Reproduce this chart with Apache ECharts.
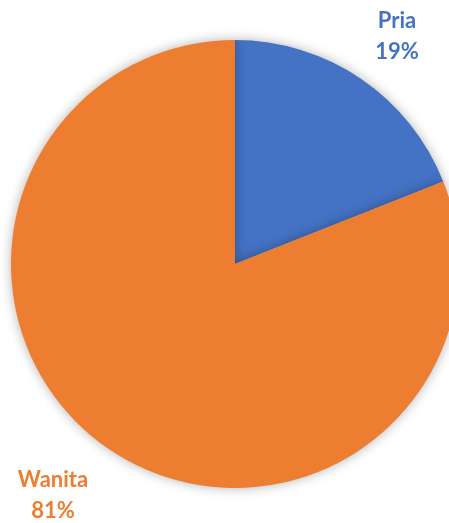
<!DOCTYPE html>
<html>
<head>
<meta charset="utf-8">
<script src="https://cdn.jsdelivr.net/npm/echarts@6/dist/echarts.min.js"></script>
<style>
  html, body { margin: 0; padding: 0; background: #fff; }
  #chart { width: 449px; height: 523px; }
</style>
</head>
<body>
<div id="chart"></div>
<script>
const categories = ["Pria", "Wanita"];
const values = [19, 81];
const colors = ["#4472C4", "#ED7D31"];

const chart = echarts.init(document.getElementById("chart"));

chart.setOption({
  animation: false,
  series: [
    {
      type: "pie",
      center: [235, 264],
      radius: 224,
      startAngle: 90,
      clockwise: true,
      percentPrecision: 0,
      avoidLabelOverlap: false,
      data: categories.map((name, i) => ({
        name,
        value: values[i],
        itemStyle: { color: colors[i] },
        label: { color: colors[i] },
      })),
      itemStyle: {
        shadowBlur: 12,
        shadowColor: "rgba(0, 0, 0, 0.3)",
      },
      label: {
        show: true,
        position: "outside",
        formatter: "{b}\n{d}%",
        fontFamily: "Lato",
        fontWeight: "bold",
        fontSize: 22,
        lineHeight: 31,
        align: "center",
        overflow: "none",
        width: 120,
      },
      labelLine: { show: false },
      labelLayout: (params) =>
        params.dataIndex === 0
          ? { x: 397, y: 36, align: "center", verticalAlign: "middle" }
          : { x: 53, y: 495, align: "center", verticalAlign: "middle" },
      emphasis: { disabled: true },
    },
  ],
});
</script>
</body>
</html>
